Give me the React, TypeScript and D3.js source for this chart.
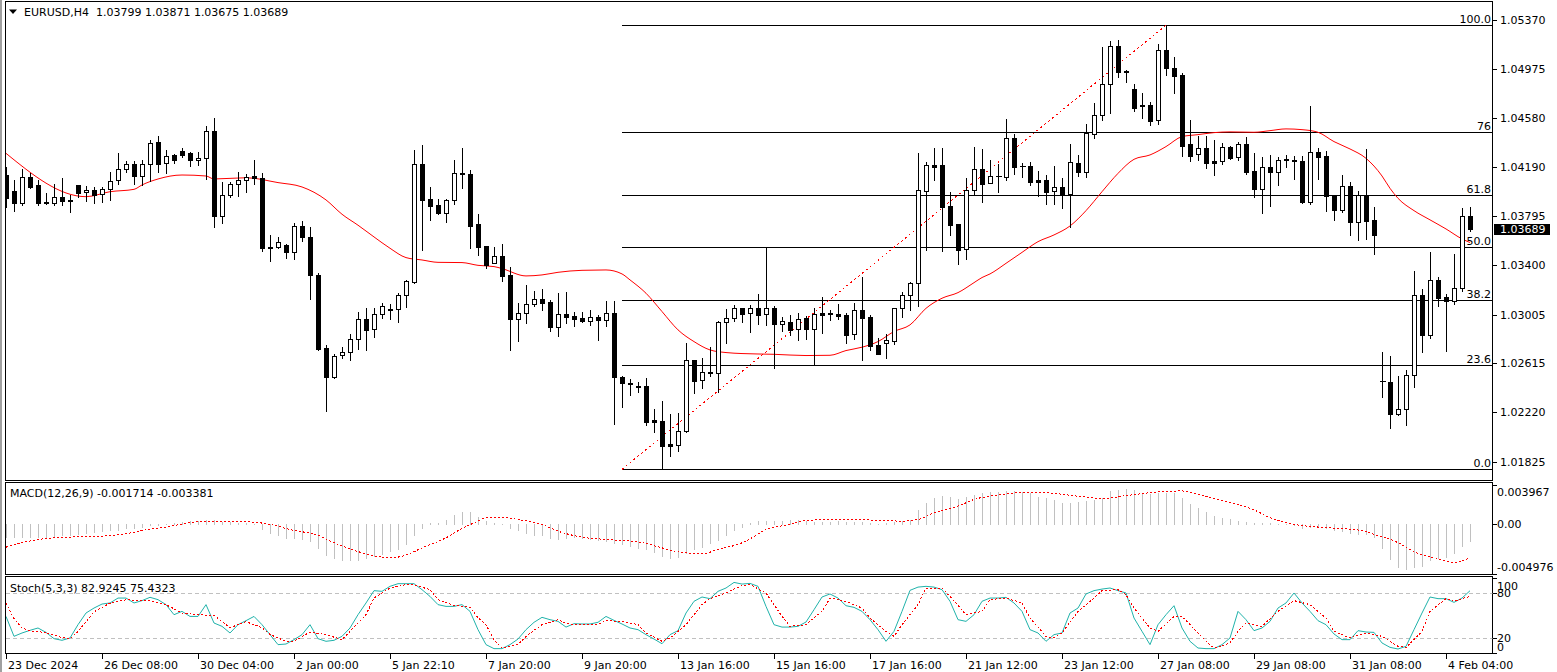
import React from 'react';
import * as d3 from 'd3';

// ---------------- DATA ----------------
const symbolTitle = 'EURUSD,H4';
const lastOHLC = [1.03799, 1.03871, 1.03675, 1.03689];

const opens = [
1.04126,1.03998,1.03905,1.04107,1.04043,1.03910,1.03899,1.03947,1.03923,1.04043,
1.03987,1.04006,1.03974,1.04011,1.04083,1.04172,1.04212,1.04121,1.04212,1.04389,
1.04220,1.04284,1.04316,1.04300,1.04244,1.04260,1.04477,1.03800,1.03963,1.04051,
1.04083,1.04118,1.04104,1.03548,1.03546,1.03564,1.03505,1.03715,1.03626,1.03321,
1.02736,1.02508,1.02679,1.02706,1.02808,1.02968,1.02888,1.03008,1.03046,1.03048,
1.03161,1.03270,1.04212,1.03931,1.03883,1.03824,1.03923,1.04139,1.04131,1.03731,
1.03554,1.03417,1.03473,1.03324,1.02973,1.03016,1.03088,1.03128,1.03107,1.02905,
1.03008,1.02995,1.02979,1.02957,1.02987,1.02965,1.03016,1.02502,1.02457,1.02430,
1.02433,1.02160,1.02152,1.01967,1.01962,1.02069,1.02639,1.02484,1.02545,1.02535,
1.02944,1.02976,1.03056,1.03016,1.03056,1.03008,1.03056,1.02928,1.02946,1.02888,
1.02976,1.02893,1.03019,1.03016,1.03011,1.03003,1.02848,1.03040,1.02987,1.02762,
1.02781,1.02797,1.03056,1.03166,1.03257,1.04001,1.04207,1.04207,1.03878,1.03734,
1.03530,1.04003,1.04172,1.04059,1.04115,1.04113,1.04424,1.04201,1.04199,1.04086,
1.04086,1.04001,1.04030,1.03974,1.04223,1.04153,1.04453,1.04605,1.04854,1.05159,
1.04961,1.04814,1.04688,1.04688,1.04565,1.05127,1.04985,1.04927,1.04375,1.04292,
1.04343,1.04236,1.04236,1.04351,1.04268,1.04375,1.04158,1.04011,1.04188,1.04153,
1.04247,1.04244,1.04239,1.03913,1.04308,1.04279,1.03966,1.03848,1.04035,1.03752,
1.03958,1.03766,1.02476,1.02462,1.02211,1.02246,1.02519,1.03163,1.02840,1.03284,
1.03147,1.03115,1.03217,1.03799];

const highs = [
1.04193,1.04086,1.04172,1.04139,1.04086,1.03984,1.04054,1.04102,1.03963,1.04046,
1.04038,1.04030,1.04030,1.04150,1.04300,1.04236,1.04236,1.04247,1.04407,1.04440,
1.04327,1.04295,1.04343,1.04311,1.04311,1.04519,1.04584,1.04070,1.04070,1.04148,
1.04131,1.04247,1.04142,1.03645,1.03629,1.03575,1.03742,1.03758,1.03709,1.03343,
1.02762,1.02690,1.02746,1.02851,1.03027,1.03059,1.03059,1.03099,1.03088,1.03182,
1.03287,1.04327,1.04365,1.04030,1.03934,1.03931,1.04247,1.04343,1.04164,1.03814,
1.03554,1.03548,1.03570,1.03391,1.03099,1.03244,1.03196,1.03209,1.03120,1.03176,
1.03185,1.03024,1.03030,1.03043,1.03003,1.03112,1.03112,1.02513,1.02486,1.02462,
1.02497,1.02249,1.02313,1.02209,1.02214,1.02776,1.02639,1.02658,1.02744,1.02954,
1.03051,1.03083,1.03059,1.03083,1.03171,1.03546,1.03075,1.02987,1.03005,1.03019,
1.02995,1.03056,1.03147,1.03043,1.03091,1.03016,1.03099,1.03308,1.03003,1.02819,
1.02851,1.03056,1.03188,1.03268,1.04303,1.04231,1.04343,1.04343,1.03987,1.03734,
1.04102,1.04354,1.04335,1.04247,1.04215,1.04576,1.04456,1.04220,1.04228,1.04158,
1.04126,1.04199,1.04099,1.04375,1.04287,1.04535,1.04704,1.05153,1.05202,1.05207,
1.04969,1.04854,1.04784,1.04712,1.05178,1.05328,1.05074,1.04945,1.04568,1.04440,
1.04440,1.04407,1.04383,1.04356,1.04389,1.04432,1.04300,1.04273,1.04284,1.04273,
1.04284,1.04279,1.04281,1.04680,1.04343,1.04316,1.03966,1.04126,1.04073,1.04001,
1.04335,1.03867,1.02709,1.02674,1.02513,1.02561,1.03356,1.03212,1.03508,1.03311,
1.03174,1.03492,1.03862,1.03871];

const lows = [
1.03867,1.03840,1.03889,1.04024,1.03883,1.03897,1.03889,1.03883,1.03832,1.03952,
1.03921,1.03899,1.03910,1.03926,1.04057,1.04148,1.04057,1.04043,1.04081,1.04153,
1.04139,1.04220,1.04268,1.04201,1.04204,1.04091,1.03712,1.03744,1.03947,1.03960,
1.03992,1.04051,1.03519,1.03439,1.03538,1.03457,1.03449,1.03594,1.03134,1.02722,
1.02235,1.02500,1.02655,1.02645,1.02728,1.02725,1.02827,1.02981,1.02973,1.02949,
1.03070,1.03262,1.03527,1.03768,1.03811,1.03752,1.03897,1.04024,1.03543,1.03484,
1.03383,1.03417,1.03276,1.02722,1.02797,1.02941,1.03072,1.03046,1.02870,1.02830,
1.02941,1.02918,1.02946,1.02920,1.02805,1.02917,1.02128,1.02267,1.02361,1.02382,
1.02120,1.02064,1.01765,1.01874,1.01914,1.02064,1.02380,1.02420,1.02516,1.02388,
1.02781,1.02957,1.02949,1.02862,1.02933,1.02925,1.02580,1.02877,1.02840,1.02805,
1.02813,1.02609,1.02854,1.02963,1.02970,1.02776,1.02813,1.02645,1.02722,1.02687,
1.02658,1.02771,1.02989,1.03046,1.03078,1.03527,1.04089,1.03519,1.03647,1.03415,
1.03455,1.03974,1.03913,1.04059,1.03990,1.04086,1.04137,1.04113,1.04049,1.03960,
1.03897,1.03897,1.03864,1.03712,1.04118,1.04113,1.04426,1.04570,1.04621,1.04916,
1.04876,1.04642,1.04587,1.04528,1.04538,1.04929,1.04787,1.04281,1.04239,1.04250,
1.04185,1.04129,1.04217,1.04257,1.04250,1.04137,1.03947,1.03819,1.03878,1.04049,
1.04188,1.04091,1.03905,1.03897,1.04091,1.03840,1.03768,1.03827,1.03647,1.03602,
1.03610,1.03495,1.02348,1.02099,1.02203,1.02120,1.02428,1.02703,1.02821,1.03078,
1.02717,1.03088,1.03198,1.03675];

const closes = [
1.03939,1.03905,1.04107,1.04032,1.03905,1.03899,1.03947,1.03915,1.03918,1.03984,
1.04006,1.03968,1.04011,1.04081,1.04172,1.04212,1.04121,1.04212,1.04381,1.04212,
1.04276,1.04250,1.04287,1.04244,1.04260,1.04477,1.03800,1.03963,1.04054,1.04083,
1.04113,1.04104,1.03543,1.03543,1.03586,1.03505,1.03715,1.03626,1.03321,1.02730,
1.02508,1.02671,1.02706,1.02808,1.02968,1.02885,1.03008,1.03075,1.03051,1.03161,
1.03273,1.04212,1.03926,1.03881,1.03824,1.03923,1.04139,1.04131,1.03720,1.03551,
1.03404,1.03473,1.03319,1.02973,1.03016,1.03088,1.03128,1.03102,1.02905,1.03008,
1.02987,1.02973,1.02957,1.02984,1.02965,1.03016,1.02502,1.02454,1.02451,1.02425,
1.02147,1.02144,1.01954,1.01954,1.02069,1.02639,1.02476,1.02543,1.02535,1.02946,
1.02976,1.03056,1.03013,1.03056,1.03005,1.03056,1.02928,1.02952,1.02885,1.02968,
1.02893,1.03008,1.03005,1.03011,1.02997,1.02838,1.03040,1.02981,1.02757,1.02692,
1.02800,1.03056,1.03161,1.03257,1.04006,1.04207,1.04193,1.03867,1.03728,1.03527,
1.04003,1.04172,1.04051,1.04118,1.04121,1.04424,1.04193,1.04196,1.04073,1.04073,
1.03992,1.04030,1.03974,1.04228,1.04153,1.04464,1.04605,1.04854,1.05159,1.04951,
1.04951,1.04666,1.04677,1.04563,1.05127,1.04988,1.04924,1.04362,1.04281,1.04343,
1.04225,1.04225,1.04351,1.04265,1.04375,1.04153,1.04011,1.04188,1.04153,1.04244,
1.04252,1.04239,1.03910,1.04308,1.04273,1.03960,1.03848,1.04035,1.03752,1.03966,
1.03760,1.03645,1.02471,1.02211,1.02246,1.02519,1.03163,1.02840,1.03284,1.03142,
1.03112,1.03217,1.03795,1.03689];

// moving average samples [bar, value]
const maPoints: [number, number][] = [
[0,1.04300],[10,1.03952],[13,1.03992],[16,1.04011],[17,1.04046],[19,1.04094],[22,1.04126],[25,1.04118],
[26,1.04094],[30,1.04104],[34,1.04065],[37,1.04030],[40,1.03926],[42,1.03811],[44,1.03723],[46,1.03629],
[48,1.03538],[50,1.03463],[52,1.03444],[54,1.03425],[57,1.03423],[59,1.03401],[61,1.03391],[62,1.03375],
[65,1.03316],[67,1.03324],[69,1.03345],[72,1.03361],[75,1.03364],[77,1.03332],[78,1.03284],[80,1.03177],
[82,1.03030],[84,1.02883],[86,1.02789],[88,1.02722],[90,1.02701],[92,1.02693],[96,1.02687],[100,1.02677],
[103,1.02679],[105,1.02717],[107,1.02744],[109,1.02789],[111,1.02870],[113,1.02923],[115,1.03056],[117,1.03137],
[119,1.03182],[121,1.03262],[122,1.03303],[123,1.03332],[125,1.03417],[127,1.03505],[129,1.03591],[131,1.03645],
[133,1.03717],[135,1.03840],[137,1.03992],[139,1.04139],[141,1.04252],[143,1.04287],[145,1.04354],[147,1.04434],
[149,1.04450],[151,1.04466],[153,1.04472],[156,1.04469],[158,1.04482],[160,1.04496],[162,1.04490],[164,1.04469],
[166,1.04394],[168,1.04335],[170,1.04260],[172,1.04118],[173,1.04019],[174,1.03939],[176,1.03840],[178,1.03766],
[180,1.03693],[182,1.03613],[183,1.03584]];

const macdHist = [
-0.00132,-0.00132,-0.00132,-0.00132,-0.00132,-0.00132,-0.00122,-0.00112,-0.00106,-0.00099,
-0.00089,-0.00082,-0.00072,-0.00065,-0.00059,-0.00045,-0.00039,-0.00028,-0.00015,-0.00008,
-0.00002,0.00008,0.00018,0.00025,0.00028,0.00045,0.00035,0.00022,0.00015,0.00008,
0.00005,-0.00005,-0.00055,-0.00089,-0.00106,-0.00139,-0.00139,-0.00149,-0.00173,-0.00240,
-0.00307,-0.00340,-0.00357,-0.00363,-0.00357,-0.00340,-0.00323,-0.00300,-0.00273,-0.00250,
-0.00206,-0.00106,-0.00045,0.00008,0.00012,0.00045,0.00095,0.00119,0.00119,0.00069,
0.00028,0.00012,0.00002,-0.00039,-0.00065,-0.00089,-0.00106,-0.00112,-0.00139,-0.00146,
-0.00139,-0.00132,-0.00139,-0.00149,-0.00166,-0.00173,-0.00189,-0.00199,-0.00223,-0.00240,
-0.00256,-0.00280,-0.00323,-0.00340,-0.00330,-0.00290,-0.00256,-0.00233,-0.00189,-0.00156,
-0.00106,-0.00065,-0.00032,0.00012,0.00028,0.00028,0.00028,0.00028,0.00035,0.00039,
0.00028,0.00022,0.00018,0.00022,0.00028,0.00022,0.00022,0.00018,0.00012,0.00002,
0.00005,0.00018,0.00028,0.00045,0.00136,0.00213,0.00263,0.00280,0.00273,0.00246,
0.00270,0.00296,0.00313,0.00320,0.00323,0.00330,0.00330,0.00323,0.00313,0.00270,
0.00263,0.00240,0.00213,0.00213,0.00223,0.00229,0.00240,0.00263,0.00330,0.00340,
0.00350,0.00338,0.00308,0.00298,0.00315,0.00315,0.00308,0.00258,0.00198,0.00164,
0.00121,0.00080,0.00064,0.00047,0.00030,0.00020,0.00010,0.00007,0.00007,0.00003,
-0.00003,-0.00013,-0.00044,-0.00030,-0.00027,-0.00037,-0.00064,-0.00070,-0.00087,-0.00097,
-0.00097,-0.00131,-0.00245,-0.00348,-0.00429,-0.00456,-0.00429,-0.00422,-0.00365,-0.00338,
-0.00328,-0.00288,-0.00221,-0.00171];

const macdSignal: [number, number][] = [
[0,-0.00233],[2,-0.00189],[4,-0.00156],[8,-0.00132],[12,-0.00122],[15,-0.00099],[17,-0.00065],[20,-0.00032],
[23,0.00012],[25,0.00028],[27,0.00028],[31,0.00018],[33,-0.00005],[36,-0.00065],[39,-0.00112],[41,-0.00189],
[43,-0.00250],[45,-0.00300],[47,-0.00333],[48,-0.00340],[50,-0.00313],[52,-0.00240],[55,-0.00139],[57,-0.00045],
[59,0.00028],[60,0.00062],[62,0.00069],[64,0.00045],[67,-0.00005],[69,-0.00072],[72,-0.00132],[75,-0.00156],
[79,-0.00179],[82,-0.00240],[84,-0.00280],[87,-0.00300],[89,-0.00256],[92,-0.00189],[93,-0.00149],[95,-0.00055],
[98,-0.00005],[100,0.00035],[103,0.00045],[110,0.00035],[112,0.00028],[114,0.00045],[116,0.00112],[119,0.00179],
[121,0.00246],[124,0.00290],[128,0.00320],[131,0.00307],[135,0.00270],[137,0.00256],[140,0.00285],[144,0.00322],
[147,0.00332],[148,0.00315],[151,0.00258],[153,0.00214],[156,0.00141],[158,0.00064],[161,-0.00003],[165,-0.00037],
[169,-0.00060],[171,-0.00104],[174,-0.00188],[176,-0.00278],[179,-0.00348],[181,-0.00389],[183,-0.00338]];

const stochK = [
48.9,22.6,27,30.5,33.6,27.8,19.5,17.3,20.4,38,
53.4,60,65.3,66.7,73.2,73.2,66.7,69.8,74.2,71.1,
64.5,51.2,55.6,48.9,48.9,64.5,40.2,35.8,27,38,
43.3,48.9,38,24.8,11.6,12.4,18.2,24.8,38,19.5,
16,17.3,22.6,33.6,51.2,66.7,83,82.1,88.7,92.2,
92.2,92.2,84.3,75.4,64.5,62.2,62.2,64.5,55.6,31.4,
11.6,6.3,6.3,11.6,19,31.4,41.1,47.7,44.6,42.4,
34.8,39.3,38.9,38.9,41.1,48.9,43.7,38.9,33.6,31.4,
24.8,19,12.8,24.8,30.1,53.4,68.9,74.6,72.4,82.1,
86.5,93.9,91.7,92.6,88.7,62.2,38,34.8,34.8,35.8,
41.5,57.8,74.6,78.6,73.2,63.1,60.9,55.6,44.6,31.4,
16,29.2,55.6,83.4,87.7,88.7,87.7,84.3,68.9,44.6,
42.4,51.2,68.9,73.2,73.2,74.1,66.7,55.6,31.4,27,
16,24.8,27,53.4,60,78.6,83,85.1,86.5,83,
79.9,46.8,29.2,11.6,38,51.2,63.1,33.6,16,7.1,
6.3,6.3,11.6,20.4,55.6,44.6,30.1,33.6,42.4,60,
66.7,79.9,66.7,55.6,43.3,38,25.7,18.2,18.2,30.1,
28.3,27.8,13.8,8.0,5.8,9.3,31.4,53.4,74.6,72.4,
72.4,67.5,73.2,82.9];

const stochD: [number, number][] = [
[0,66.6],[1,46],[2,33.6],[3,30],[5,27.5],[7,21],[8,19.5],[9,29],[11,55],[13,66.5],[15,71],[17,69.8],[18,69.8],
[20,64.5],[22,53.4],[24,51.2],[26,50.3],[28,34],[30,42],[32,34],[33,25],[35,16],[36,16],[38,28.3],[40,24.8],
[42,18.2],[43,29.2],[45,51.2],[46,73.2],[47,80],[48,86.5],[50,90.9],[51,90.9],[53,84.2],[54,71.1],[56,63.6],
[58,60.9],[59,47],[60,38],[61,18.2],[62,7.1],[64,11.6],[65,22.6],[67,38],[69,44.6],[70,39.3],[72,38],[74,38],
[75,43.3],[77,42.4],[79,38],[80,27],[82,16],[83,20.4],[85,38],[87,64.5],[88,72.4],[90,79.9],[92,90],[93,91],
[95,79.9],[97,48.9],[98,35.8],[100,38],[102,55.6],[103,73.2],[105,68.9],[107,60],[108,46.8],[110,29.2],[111,22.6],
[112,38],[114,64.5],[115,86.5],[117,86.5],[118,75.4],[120,51.2],[122,55.6],[123,71.1],[125,73.2],[127,66.7],
[128,46.8],[130,22.6],[131,20.4],[132,27],[134,55.6],[136,73.2],[137,83],[139,84.3],[140,77.6],[141,60],[143,33.6],
[144,29.2],[146,48.9],[147,48.9],[148,38],[150,16],[151,7.1],[153,13.7],[154,29.2],[155,40.2],[157,35.8],[159,55.6],
[161,69.8],[163,64.5],[165,46.8],[166,29.2],[168,20.4],[170,27],[172,22.6],[174,9.3],[175,8],[177,29.2],[178,55.6],
[180,72.4],[181,69],[182,72.4],[183,75.4]];

const priceTicks = [1.05370,1.04975,1.04580,1.04190,1.03795,1.03400,1.03005,1.02615,1.02220,1.01825];
const timeLabels = ['23 Dec 2024','26 Dec 08:00','30 Dec 04:00','2 Jan 00:00','5 Jan 22:10','7 Jan 20:00',
  '9 Jan 20:00','13 Jan 16:00','15 Jan 16:00','17 Jan 16:00','21 Jan 12:00','23 Jan 12:00','27 Jan 08:00',
  '29 Jan 08:00','31 Jan 08:00','4 Feb 04:00'];
const timeLabelBars = [0,12,24,36,48,60,72,84,96,108,120,132,144,156,168,180];

const fibLevels = [0, 23.6, 38.2, 50.0, 61.8, 76, 100];
const fibLabels = ['0.0','23.6','38.2','50.0','61.8','76','100.0'];
const fibLow = 1.01764;
const fibHigh = 1.05327;
const fibStartBar = 77;
const fibEndBar = 145;

const macdParams = 'MACD(12,26,9)';
const macdLast = ['-0.001714', '-0.003381'];
const macdAxis = [0.003967, 0, -0.004976];
const macdAxisLabels = ['0.003967', '0.00', '-0.004976'];
const stochParams = 'Stoch(5,3,3)';
const stochLast = ['82.9245', '75.4323'];
const stochAxis = [100, 80, 20, 0];

// ---------------- LAYOUT ----------------
const W = 1557, H = 672;
const L = 5.5, R = 1492.5;
const FONT = 'DejaVu Sans, Verdana, sans-serif';
const FS = 11;

export default function App() {
  const n = closes.length;
  const x = d3.scaleLinear().domain([0, n - 1]).range([6, 6 + 8 * (n - 1)]);
  const yP = d3.scaleLinear().domain([1.01825, 1.0537]).range([461.7, 20]);
  const yM = d3.scaleLinear().domain([-0.004976, 0.003967]).range([573.5, 484.5]);
  const yS = d3.scaleLinear().domain([0, 100]).range([653.4, 577.8]);

  const px = (i: number) => Math.round(x(i)) + 0.5;
  const ry = (v: number) => Math.round(yP(v));

  const maLine = d3.line<[number, number]>().x(d => x(d[0])).y(d => yP(d[1])).curve(d3.curveMonotoneX);
  const sigLine = d3.line<[number, number]>().x(d => x(d[0])).y(d => yM(d[1])).curve(d3.curveMonotoneX);
  const kLine = d3.line<number>().x((_, i) => x(i)).y(d => yS(d));
  const dLine = d3.line<[number, number]>().x(d => x(d[0])).y(d => yS(d[1]));

  const fibPrice = (lvl: number) => fibLow + (fibHigh - fibLow) * lvl / 100;
  const fibX0 = x(fibStartBar);

  const priceText = (v: number, d = 5) => v.toFixed(d);

  return (
    <svg width={W} height={H} style={{ position: 'fixed', left: 0, top: 0, background: '#fff' }}
      fontFamily={FONT} fontSize={FS}>
      <defs>
        <clipPath id="cMain"><rect x={6} y={2} width={R - 6} height={478} /></clipPath>
        <clipPath id="cMacd"><rect x={6} y={483} width={R - 6} height={91} /></clipPath>
        <clipPath id="cSto"><rect x={6} y={577} width={R - 6} height={76} /></clipPath>
      </defs>
      <rect x={0} y={0} width={W} height={H} fill="#fff" />
      <line x1={1} x2={1} y1={0} y2={H} stroke="#a0a0a0" strokeWidth={2} />

      {/* panel frames */}
      <g fill="none" stroke="#000" shapeRendering="crispEdges">
        <rect x={L} y={1.5} width={R - L} height={479} />
        <rect x={L} y={482.5} width={R - L} height={92} />
        <rect x={L} y={576.5} width={R - L} height={77} />
      </g>

      {/* header */}
      <path d="M9,9.5 L17,9.5 L13,14 Z" fill="#000" />
      <text x={24} y={16} fill="#000" style={{ whiteSpace: 'pre' }}>
        {`${symbolTitle}  ${lastOHLC.map(v => priceText(v)).join(' ')}`}
      </text>

      {/* main panel */}
      <g clipPath="url(#cMain)">
        {/* fibonacci */}
        <g shapeRendering="crispEdges">
          {fibLevels.map(l => (
            <line key={l} x1={fibX0} x2={R} y1={ry(fibPrice(l)) + 0.5} y2={ry(fibPrice(l)) + 0.5} stroke="#000" />
          ))}
        </g>
        <line x1={x(fibStartBar)} y1={yP(fibLow)} x2={x(fibEndBar)} y2={yP(fibHigh)} stroke="#ff0000"
          strokeDasharray="2 3" shapeRendering="crispEdges" />
        {fibLevels.map((l, k) => (
          <text key={'fl' + l} x={1491} y={ry(fibPrice(l)) - 2} textAnchor="end" fill="#000">{fibLabels[k]}</text>
        ))}

        {/* moving average */}
        <path d={maLine(maPoints) || ''} fill="none" stroke="#ff0000" strokeWidth={1} />

        {/* candles */}
        <g shapeRendering="crispEdges">
          {closes.map((c, i) => {
            const o = opens[i], h = highs[i], l = lows[i];
            const cx = px(i);
            const bull = c >= o;
            const top = ry(Math.max(o, c));
            const bot = ry(Math.min(o, c));
            return (
              <g key={i}>
                <line x1={cx} x2={cx} y1={ry(h)} y2={ry(l) + 1} stroke="#000" />
                {bot - top < 1 ? (
                  <line x1={cx - 2.5} x2={cx + 3.5} y1={top + 0.5} y2={top + 0.5} stroke="#000" />
                ) : (
                  <rect x={cx - 2} y={top + 0.5} width={4} height={bot - top}
                    fill={bull ? '#fff' : '#000'} stroke="#000" />
                )}
              </g>
            );
          })}
        </g>
      </g>

      {/* price axis */}
      <g shapeRendering="crispEdges">
        {priceTicks.map(t => (
          <line key={t} x1={R} x2={R + 4} y1={ry(t) + 0.5} y2={ry(t) + 0.5} stroke="#000" />
        ))}
      </g>
      {priceTicks.map(t => (
        <text key={'p' + t} x={1500} y={yP(t) + 4} fill="#000">{priceText(t)}</text>
      ))}
      <rect x={1494} y={Math.round(yP(lastOHLC[3])) - 5} width={56} height={11} fill="#000" />
      <text x={1500} y={yP(lastOHLC[3]) + 4} fill="#fff">{priceText(lastOHLC[3])}</text>

      {/* MACD panel */}
      <text x={10} y={497} fill="#000">{`${macdParams} ${macdLast.join(' ')}`}</text>
      <g clipPath="url(#cMacd)">
        <g shapeRendering="crispEdges">
          {macdHist.map((v, i) => {
            const y0 = Math.round(yM(0));
            const y1 = Math.round(yM(v));
            return <line key={i} x1={px(i)} x2={px(i)} y1={Math.min(y0, y1)} y2={Math.max(y0, y1) + 1}
              stroke="#c0c0c0" />;
          })}
        </g>
        <path d={sigLine(macdSignal) || ''} fill="none" stroke="#ff0000" strokeDasharray="2 2"
          shapeRendering="crispEdges" />
      </g>
      {macdAxis.map((v, k) => (
        <g key={'ma' + k}>
          <line x1={R} x2={R + 4} y1={Math.round(yM(v)) + 0.5} y2={Math.round(yM(v)) + 0.5} stroke="#000"
            shapeRendering="crispEdges" />
          <text x={1497} y={k === 0 ? 496 : k === 2 ? 571 : yM(v) + 4} fill="#000">{macdAxisLabels[k]}</text>
        </g>
      ))}

      {/* Stochastic panel */}
      <text x={10} y={592} fill="#000">{`${stochParams} ${stochLast.join(' ')}`}</text>
      <g clipPath="url(#cSto)">
        {[80, 20].map(lv => (
          <line key={lv} x1={6} x2={R} y1={Math.round(yS(lv)) + 0.5} y2={Math.round(yS(lv)) + 0.5}
            stroke="#c0c0c0" strokeDasharray="4 3" shapeRendering="crispEdges" />
        ))}
        <path d={kLine(stochK) || ''} fill="none" stroke="#20b2aa" strokeWidth={1} />
        <path d={dLine(stochD) || ''} fill="none" stroke="#ff0000" strokeDasharray="2 2"
          shapeRendering="crispEdges" />
      </g>
      {stochAxis.map(v => (
        <g key={'sa' + v}>
          <line x1={R} x2={R + 4} y1={Math.round(yS(v)) + 0.5} y2={Math.round(yS(v)) + 0.5} stroke="#000"
            shapeRendering="crispEdges" />
          <text x={1497}
            y={v === 100 ? 589.5 : v === 0 ? 650.5 : yS(v) + 4} fill="#000">{String(v)}</text>
        </g>
      ))}

      {/* time axis */}
      {timeLabelBars.map((b, k) => (
        <g key={'t' + b}>
          <line x1={px(b)} x2={px(b)} y1={654} y2={659} stroke="#000" shapeRendering="crispEdges" />
          <text x={px(b) + 1.5} y={669} fill="#000">{timeLabels[k]}</text>
        </g>
      ))}
    </svg>
  );
}
